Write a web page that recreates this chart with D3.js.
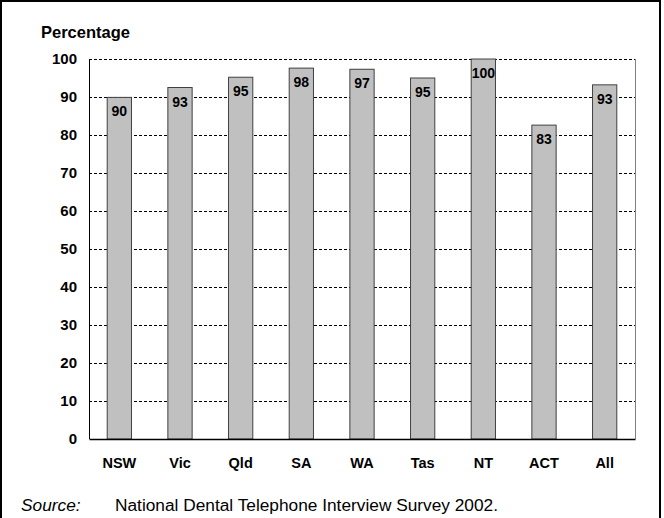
<!DOCTYPE html>
<html>
<head>
<meta charset="utf-8">
<script src="https://cdn.jsdelivr.net/npm/d3@7"></script>
<style>
  body { margin: 0; background: #fff; }
  text { font-family: Arial, "Liberation Sans", sans-serif; }
</style>
</head>
<body>
<div id="chart"></div>
<script>
const states = ['NSW', 'Vic', 'Qld', 'SA', 'WA', 'Tas', 'NT', 'ACT', 'All'];
const percentages = [89.9, 92.5, 95.2, 97.6, 97.3, 95.0, 100, 82.6, 93.2];
const yTicks = [0, 10, 20, 30, 40, 50, 60, 70, 80, 90, 100];

const W = 664, H = 518;
const margin = { top: 59, right: 29, bottom: 79, left: 89 };
const width = W - margin.left - margin.right;
const height = H - margin.top - margin.bottom;
const font = 'Arial, "Liberation Sans", sans-serif';

const svg = d3.select('#chart')
  .append('svg')
  .attr('width', W)
  .attr('height', H);

// outer frame (bottom edge runs off the picture)
svg.append('path')
  .attr('d', `M1,${H + 5}V1H660V${H + 5}`)
  .attr('fill', 'none')
  .attr('stroke', 'black')
  .attr('stroke-width', 2);

const g = svg.append('g')
  .attr('transform', `translate(${margin.left},${margin.top})`);

const x = d3.scaleBand().domain(states).range([0, width]).paddingInner(0.6).paddingOuter(0.3);
const y = d3.scaleLinear().domain([0, 100]).range([height, 0]);

// gridlines
g.append('g')
  .selectAll('line')
  .data(yTicks.filter(d => d > 0))
  .join('line')
  .attr('x1', 0)
  .attr('x2', width)
  .attr('y1', d => Math.round(y(d)) + 0.5)
  .attr('y2', d => Math.round(y(d)) + 0.5)
  .attr('stroke', 'black')
  .attr('stroke-width', 1)
  .attr('stroke-dasharray', '3,2');

// right border of plot
g.append('line')
  .attr('x1', width + 0.5).attr('x2', width + 0.5)
  .attr('y1', Math.round(y(100))).attr('y2', height)
  .attr('stroke', '#808080');

// bars
g.append('g')
  .selectAll('rect')
  .data(percentages)
  .join('rect')
  .attr('x', (d, i) => x(states[i]))
  .attr('y', d => y(d))
  .attr('width', x.bandwidth())
  .attr('height', d => height - y(d))
  .attr('fill', '#c0c0c0')
  .attr('stroke', '#404040')
  .attr('stroke-width', 1);

// value labels
g.append('g')
  .selectAll('text')
  .data(percentages)
  .join('text')
  .attr('x', (d, i) => x(states[i]) + x.bandwidth() / 2)
  .attr('y', d => y(d) + 19)
  .attr('text-anchor', 'middle')
  .style('font-size', '14px')
  .style('font-weight', 700)
  .text(d => Math.round(d));

// y axis
const yAxis = g.append('g')
  .call(d3.axisLeft(y).tickValues(yTicks).tickSize(0).tickPadding(12));
yAxis.select('.domain').attr('stroke', 'black').attr('d', `M0.5,0V${height}`);
yAxis.selectAll('text')
  .attr('fill', 'black')
  .style('font-size', '15px')
  .style('font-weight', 700)
  .style('font-family', font);

// x axis
const xAxis = g.append('g')
  .attr('transform', `translate(0,${height})`)
  .call(d3.axisBottom(x).tickSize(0).tickPadding(19));
xAxis.select('.domain').attr('stroke', 'black').attr('stroke-width', 1.5);
xAxis.selectAll('text')
  .attr('fill', 'black')
  .style('font-size', '14.5px')
  .style('font-weight', 700)
  .style('font-family', font);

// axis title
svg.append('text')
  .attr('x', 41)
  .attr('y', 38)
  .style('font-size', '16.5px')
  .style('font-weight', 700)
  .text('Percentage');

// source
svg.append('text')
  .attr('x', 21)
  .attr('y', 511)
  .style('font-size', '17.3px')
  .style('font-style', 'italic')
  .text('Source:');
svg.append('text')
  .attr('x', 115)
  .attr('y', 511)
  .style('font-size', '17.3px')
  .text('National Dental Telephone Interview Survey 2002.');
</script>
</body>
</html>
